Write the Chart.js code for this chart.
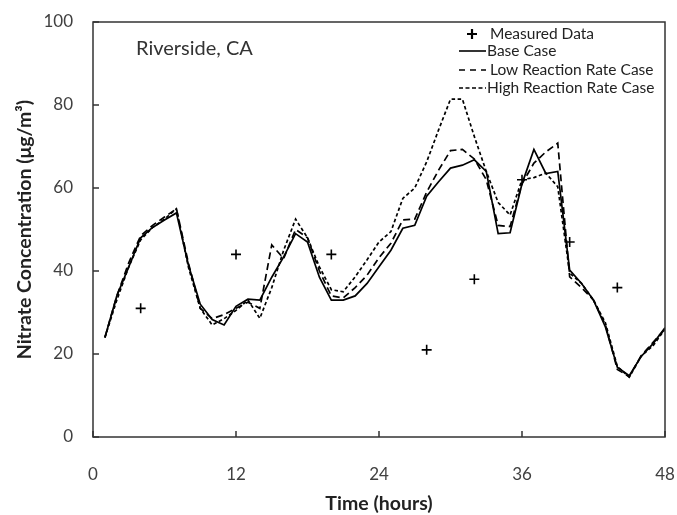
<!DOCTYPE html>
<html>
<head>
<meta charset="utf-8">
<script src="https://cdn.jsdelivr.net/npm/chart.js@4.4.0/dist/chart.umd.min.js"></script>
<style>
  html, body { margin: 0; padding: 0; background: #fff; }
  #wrap { width: 677px; height: 515px; }
</style>
</head>
<body>
<div id="wrap"><canvas id="nitrateChart" width="677" height="515"></canvas></div>
<script>
// hours 1..48
const hours = [1,2,3,4,5,6,7,8,9,10,11,12,13,14,15,16,17,18,19,20,21,22,23,24,
               25,26,27,28,29,30,31,32,33,34,35,36,37,38,39,40,41,42,43,44,45,46,47,48];

const baseCase = [24,34,41,48,50.5,52.3,54,41.5,32,28.3,27,31.5,33.2,33,38.5,43.4,49,47,38.5,33,
                  33,34,37,41,45,50.3,51,58,61.5,64.8,65.5,66.8,64,49,49.2,61,69.3,63.5,64,40.2,
                  37,33,26.5,16.8,14.8,19.4,22.5,26.3];
const lowRate  = [24,34,42,48.5,51,53,55,42,31,28.5,29.5,31,32.5,31,46.3,43,50,48,40,34,
                  33.5,36,39,43.2,46.7,52.3,52.5,59,64.3,69,69.3,67,62,51,50.7,61,66,68.7,70.8,38.6,
                  36,33,27,16.3,14.5,19.6,22.8,26];
const highRate = [24,33,41,47.5,50.5,52.5,55,41,31,27,28.5,30.5,33,28.6,36,45,52.5,48,41,35.5,
                  35,38.6,42.7,47,49.5,57.5,60,66.3,74,81.4,81.4,72.4,64,56.5,53.5,62,62.5,63.6,60.3,39.5,
                  37,33,27.5,17,14.4,19.5,22,26];

const measuredHours = [4,12,20,28,32,36,40,44];
const measuredVals  = [31,44,44,21,38,62,47,36];

const xTicks = [0,12,24,36,48];
const yTicks = [0,20,40,60,80,100];

const FONT = 'Lato, "Open Sans", sans-serif';
const INK = '#333333';

const toPoints = (xs, ys) => xs.map((x, i) => ({ x: x, y: ys[i] }));

// box, inside tick marks, site label and legend
const decorPlugin = {
    id: 'decor',
    afterDraw(chart) {
        const { ctx, chartArea: a, scales } = chart;
        ctx.save();
        ctx.strokeStyle = INK;
        ctx.lineWidth = 1.5;
        ctx.strokeRect(a.left, a.top, a.right - a.left, a.bottom - a.top);

        ctx.beginPath();
        xTicks.forEach(v => {
            const px = scales.x.getPixelForValue(v);
            ctx.moveTo(px, a.bottom);
            ctx.lineTo(px, a.bottom - 6);
        });
        yTicks.forEach(v => {
            const py = scales.y.getPixelForValue(v);
            ctx.moveTo(a.left, py);
            ctx.lineTo(a.left + 6, py);
        });
        ctx.stroke();

        ctx.fillStyle = '#333';
        ctx.font = '20px ' + FONT;
        ctx.textBaseline = 'middle';
        ctx.textAlign = 'left';
        ctx.fillText('Riverside, CA', 136, 49);

        // legend
        ctx.font = '15.5px ' + FONT;
        ctx.fillStyle = '#222';
        ctx.strokeStyle = '#000';
        const rows = [
            { y: 34, label: 'Measured Data', kind: 'cross' },
            { y: 51, label: 'Base Case', kind: 'solid' },
            { y: 70, label: 'Low Reaction Rate Case', kind: 'low' },
            { y: 88, label: 'High Reaction Rate Case', kind: 'high' }
        ];
        rows.forEach(r => {
            ctx.lineWidth = r.kind === 'cross' ? 2.2 : 1.6;
            ctx.beginPath();
            if (r.kind === 'cross') {
                ctx.setLineDash([]);
                ctx.moveTo(467, r.y); ctx.lineTo(477, r.y);
                ctx.moveTo(472, r.y - 5); ctx.lineTo(472, r.y + 5);
            } else {
                ctx.setLineDash(r.kind === 'solid' ? [] : r.kind === 'low' ? [6, 5] : [4, 2.5]);
                ctx.moveTo(459, r.y); ctx.lineTo(486, r.y);
            }
            ctx.stroke();
            ctx.setLineDash([]);
            ctx.fillText(r.label, r.kind === 'cross' || r.kind === 'low' ? 490 : 487, r.y);
        });
        ctx.restore();
    }
};

const lineStyle = (dash) => ({
    type: 'line',
    borderColor: '#000',
    borderWidth: 1.7,
    borderDash: dash,
    pointRadius: 0,
    tension: 0,
    fill: false
});

const ctx = document.getElementById('nitrateChart').getContext('2d');
const myChart = new Chart(ctx, {
    type: 'line',
    data: {
        datasets: [
            Object.assign({ label: 'Base Case', data: toPoints(hours, baseCase) }, lineStyle([])),
            Object.assign({ label: 'Low Reaction Rate Case', data: toPoints(hours, lowRate) }, lineStyle([7, 4])),
            Object.assign({ label: 'High Reaction Rate Case', data: toPoints(hours, highRate) }, lineStyle([3.5, 2.5])),
            {
                type: 'scatter',
                label: 'Measured Data',
                data: toPoints(measuredHours, measuredVals),
                pointStyle: 'cross',
                pointRadius: 5,
                borderColor: '#000',
                borderWidth: 1.6,
                showLine: false
            }
        ]
    },
    options: {
        responsive: false,
        animation: false,
        layout: { padding: { top: 22, right: 12, left: 10, bottom: 0 } },
        plugins: { legend: { display: false }, tooltip: { enabled: false } },
        scales: {
            x: {
                type: 'linear',
                min: 0, max: 48,
                afterBuildTicks: (s) => { s.ticks = xTicks.map(v => ({ value: v })); },
                afterFit: (s) => { s.height = 78; s.paddingLeft = 0; s.paddingRight = 0; },
                grid: { display: false, drawTicks: false },
                border: { display: false },
                ticks: { padding: 27, color: '#404040', font: { family: FONT, size: 17 } },
                title: {
                    display: true, text: 'Time (hours)', color: '#222',
                    font: { family: FONT, size: 19.5, weight: 'bold' }, padding: { top: 0, bottom: 0 }
                }
            },
            y: {
                min: 0, max: 100,
                afterBuildTicks: (s) => { s.ticks = yTicks.map(v => ({ value: v })); },
                afterFit: (s) => { s.width = 83; s.paddingTop = 0; s.paddingBottom = 0; },
                grid: { display: false, drawTicks: false },
                border: { display: false },
                ticks: { padding: 20, color: '#404040', font: { family: FONT, size: 17 } },
                title: {
                    display: true, text: 'Nitrate Concentration (μg/m³)', color: '#222',
                    font: { family: FONT, size: 19.5, weight: 'bold' }, padding: { top: 3, bottom: 0 }
                }
            }
        }
    },
    plugins: [decorPlugin]
});
</script>
</body>
</html>
